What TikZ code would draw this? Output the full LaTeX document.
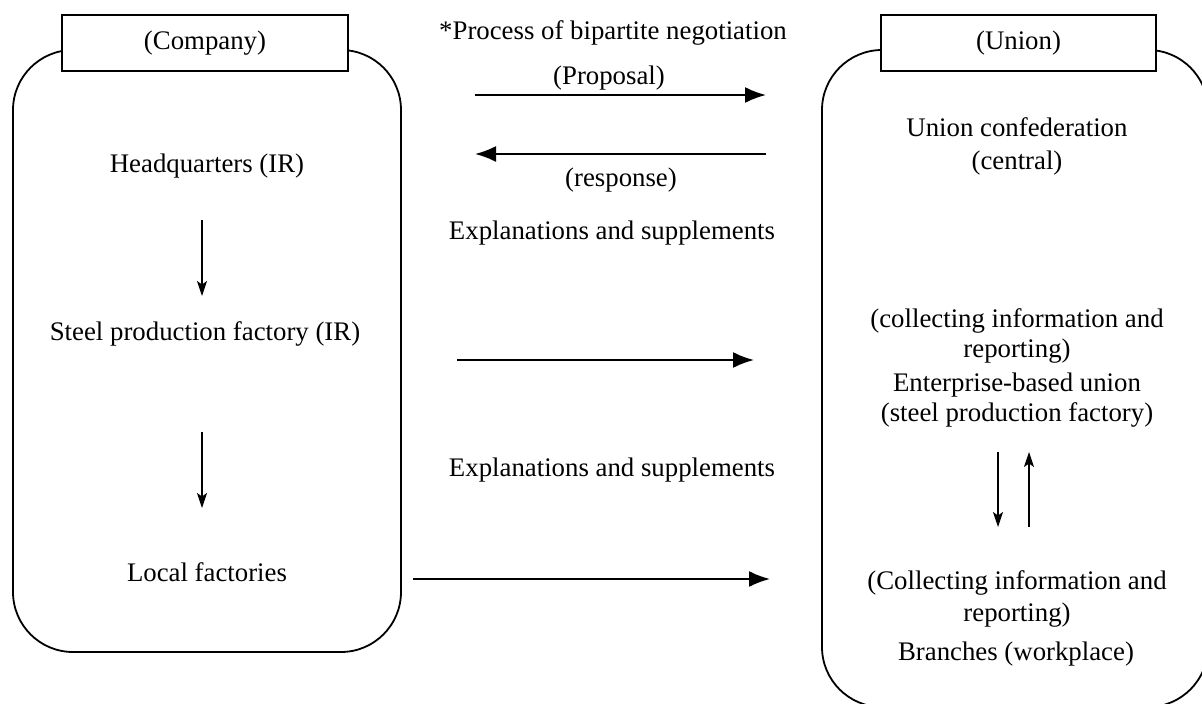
\documentclass[tikz,border=0pt]{standalone}
\usepackage{fontspec}
\setmainfont{Liberation Serif}
\usetikzlibrary{arrows.meta}
\begin{document}
\begin{tikzpicture}[x=1bp,y=-1bp,
  lbl/.style={font=\fontsize{26.8bp}{30bp}\selectfont, inner sep=0pt, anchor=base},
  frame/.style={draw, line width=1.8bp, rounded corners=60bp},
  tab/.style={draw, line width=1.8bp, fill=white, inner sep=0pt,
              minimum height=56bp, font=\fontsize{26.8bp}{30bp}\selectfont},
  bigarrow/.style={line width=2bp, -{Latex[length=21bp,width=16bp]}},
  smallarrow/.style={line width=1.2bp, -{Stealth[length=15bp,width=10bp,inset=3.5bp]}}]
\useasboundingbox (0,0) rectangle (1202,704);
\clip (0,0) rectangle (1202,704);

% the two organisations
\draw[frame] (13,50) rectangle (401,652);
\draw[frame] (822,50) rectangle (1208,707);
\node[tab, minimum width=286bp] (companytab) at (205,43) {(Company)};
\node[tab, minimum width=275bp] (uniontab) at (1018.5,43) {(Union)};

% company side
\node[lbl] (hq) at (207,173) {Headquarters (IR)};
\node[lbl] (steel) at (205,340) {Steel production factory (IR)};
\node[lbl] (local) at (207,581) {Local factories};
\coordinate (d1s) at (202,220); \coordinate (d1e) at (202,296);
\coordinate (d2s) at (202,432); \coordinate (d2e) at (202,508);
\draw[smallarrow] (d1s) -- (d1e);
\draw[smallarrow] (d2s) -- (d2e);

% union side
\node[lbl] (confedA) at (1017,137) {Union confederation};
\node[lbl] (confedB) at (1017,170) {(central)};
\node[lbl] (collA) at (1017,327) {(collecting information and};
\node[lbl] (collB) at (1017,357) {reporting)};
\node[lbl] (entA) at (1017,391) {Enterprise-based union};
\node[lbl] (entB) at (1017,421) {(steel production factory)};
\node[lbl] (collC) at (1017,589) {(Collecting information and};
\node[lbl] (collD) at (1017,621) {reporting)};
\node[lbl] (branch) at (1016,660) {Branches (workplace)};
\coordinate (u1s) at (998,452); \coordinate (u1e) at (998,527);
\coordinate (u2s) at (1029,527); \coordinate (u2e) at (1029,452);
\draw[smallarrow] (u1s) -- (u1e);
\draw[smallarrow] (u2s) -- (u2e);

% negotiation between the two
\node[lbl] (process) at (613,40) {*Process of bipartite negotiation};
\node[lbl] (proposal) at (609,85) {(Proposal)};
\node[lbl] (response) at (621,187) {(response)};
\node[lbl] (explA) at (612,240) {Explanations and supplements};
\node[lbl] (explB) at (612,476) {Explanations and supplements};
\coordinate (h1s) at (475,95);  \coordinate (h1e) at (766,95);
\coordinate (h2s) at (766,154); \coordinate (h2e) at (475,154);
\coordinate (h3s) at (457,360); \coordinate (h3e) at (754,360);
\coordinate (h4s) at (413,579); \coordinate (h4e) at (770,579);
\draw[bigarrow] (h1s) -- (h1e);
\draw[bigarrow] (h2s) -- (h2e);
\draw[bigarrow] (h3s) -- (h3e);
\draw[bigarrow] (h4s) -- (h4e);
\end{tikzpicture}
\end{document}
